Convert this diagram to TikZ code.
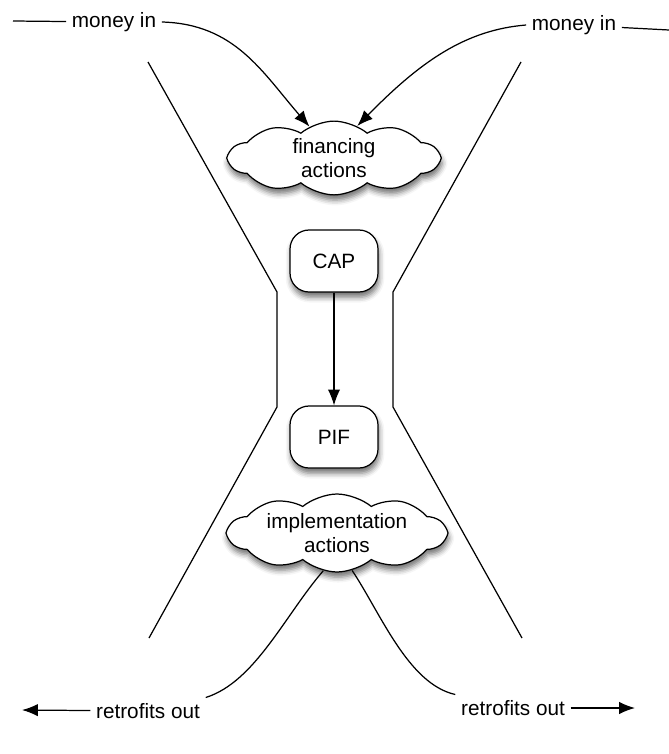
\documentclass[tikz,border=0pt]{standalone}
\usepackage{fontspec}
\setmainfont{Liberation Sans}
\usetikzlibrary{shapes.symbols,shadows.blur,arrows.meta}

\tikzstyle{shade} = [blur shadow={shadow xshift=0.6pt, shadow yshift=-3pt, shadow blur radius=3pt, shadow opacity=55}]
\tikzstyle{puff} = [cloud, cloud puffs=10, cloud puff arc=80, aspect=3.4, draw, fill=white, align=center, inner sep=0pt, shade]
\tikzstyle{box} = [rectangle, rounded corners=0.38cm, draw, fill=white, minimum width=1.76cm, minimum height=1.24cm, shade]
\tikzstyle{lbl} = [inner sep=3pt]
\tikzstyle{flow} = [-{Latex[length=9pt,width=7pt]}]

\begin{document}
\begin{tikzpicture}[x=0.02cm, y=-0.02cm, line width=0.7pt, font=\fontsize{11.8}{13.6}\selectfont]
\useasboundingbox (0,0) rectangle (669,754);
% funnel walls
\draw (148,62) -- (277,292) -- (277,407) -- (149,638);
\draw (521,62) -- (393,292) -- (393,407) -- (522,638);
% nodes
\node[lbl] (moneyL) at (114,22) {money in};
\node[lbl] (moneyR) at (574,25) {money in};
\node[puff, minimum width=4.2cm, minimum height=1.3cm] (fin) at (334,158) {financing\\actions};
\node[box] (cap) at (334,261) {CAP};
\node[box] (pif) at (334,437) {PIF};
\node[puff, minimum width=4.35cm, minimum height=1.1cm] (impl) at (337,533) {implementation\\actions};
\node[lbl] (retroL) at (148,711) {retrofits out};
\node[lbl] (retroR) at (513,708) {retrofits out};
\coordinate (inL) at (13,21);
\coordinate (inR) at (669,30);
\coordinate (outL) at (22,710);
\coordinate (outR) at (635,708);
% money in
\draw (inL) -- (moneyL);
\draw (inR) -- (moneyR);
\draw[flow] (moneyL.east) .. controls (235,24) and (262,72) .. (fin.128);
\draw[flow] (moneyR.west) .. controls (465,30) and (420,62) .. (fin.54);
% CAP to PIF
\draw[flow] (cap) -- (pif);
% retrofits out
\draw (impl.250) .. controls (285,615) and (255,682) .. (retroL.north east);
\draw (impl.292) .. controls (380,612) and (408,684) .. (retroR.north west);
\draw[flow] (retroL) -- (outL);
\draw[flow] (retroR) -- (outR);
\end{tikzpicture}
\end{document}
